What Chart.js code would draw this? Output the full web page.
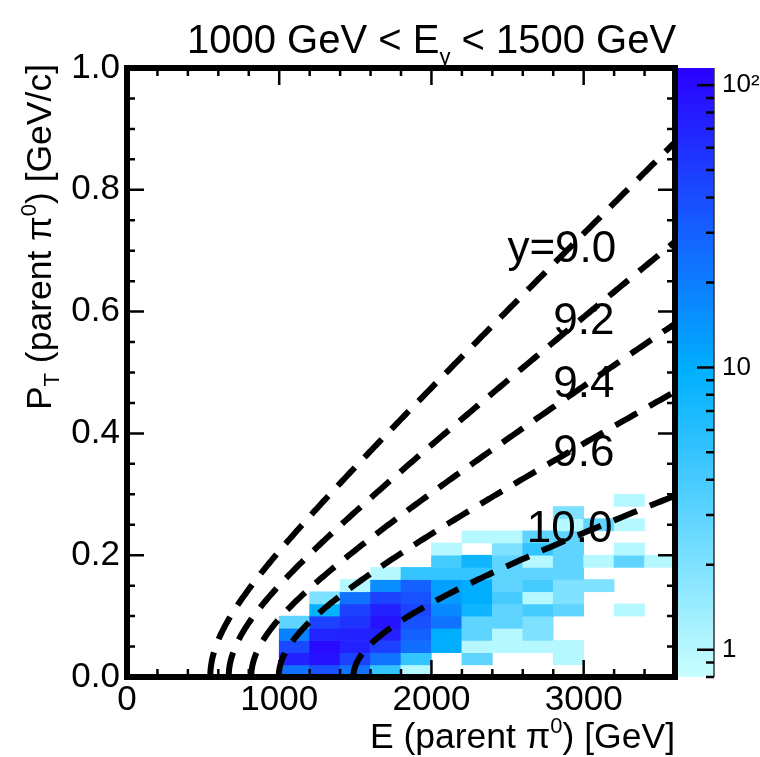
<!DOCTYPE html>
<html>
<head>
<meta charset="utf-8">
<title>pT vs E of parent pi0</title>
<script src="https://cdn.jsdelivr.net/npm/chart.js@4.4.0/dist/chart.umd.min.js"></script>
<style>
  html, body { margin: 0; padding: 0; background: #ffffff; }
  canvas { display: block; }
</style>
</head>
<body>
<canvas id="hist" width="760" height="757"></canvas>
<script>
// ---- histogram binning (E in GeV, pT in GeV/c) ----
const eBinLowEdges = [1000, 1200, 1400, 1600, 1800, 2000, 2200, 2400, 2600, 2800, 3000, 3200, 3400];
const eBinWidth = 200;
const ptBinWidth = 0.02;

// entries per E column, pT rows counted upward from 0 in steps of ptBinWidth
const countsE1000 = [23, 73, 42, 19, 3];
const countsE1200 = [38, 90, 100, 70, 47, 9, 2];
const countsE1400 = [23, 47, 73, 73, 57, 47, 23, 1];
const countsE1600 = [5, 23, 47, 73, 90, 73, 47, 16, 1];
const countsE1800 = [1, 5, 25, 30, 37, 45, 37, 30, 5];
const countsE2000 = [0, 0, 10, 10, 23, 17, 13, 12, 5, 4, 1];
const countsE2200 = [0, 3, 1, 3, 3, 8, 10, 10, 5, 8, 0, 1];
const countsE2400 = [0, 0, 1, 1, 3, 3, 4, 3, 3, 3, 2, 1];
const countsE2600 = [0, 0, 1, 2, 2, 4, 1, 4, 3, 1, 5, 3];
const countsE2800 = [0, 1, 1, 0, 0, 3, 2, 2, 3, 3, 3, 3, 1, 2];
const countsE3000 = [0, 0, 0, 0, 0, 0, 0, 2, 0, 1, 0, 0, 3];
const countsE3200 = [0, 0, 0, 0, 0, 1, 0, 0, 0, 3, 1, 0, 1, 0, 1];
const countsE3400 = [0, 0, 0, 0, 0, 0, 0, 0, 0, 1];
const countColumns = [countsE1000, countsE1200, countsE1400, countsE1600, countsE1800, countsE2000,
  countsE2200, countsE2400, countsE2600, countsE2800, countsE3000, countsE3200, countsE3400];

// iso-rapidity curves
const rapidities = [9.0, 9.2, 9.4, 9.6, 10.0];
const rapidityLabels = ['y=9.0', '9.2', '9.4', '9.6', '10.0'];
const PION_MASS = 0.135; // GeV/c^2

// axes
const eRange = [0, 3600];
const ptRange = [0, 1.0];
const zRange = [0.8, 115];
const eTicksMajor = [0, 1000, 2000, 3000];
const ptTicksMajor = [0, 0.2, 0.4, 0.6, 0.8, 1.0];
const zTicksMajor = [1, 10, 100];
const zTickLabels = ['1', '10', '10\u00B2'];
const zTicksMinor = [0.8, 0.9, 2, 3, 4, 5, 6, 7, 8, 9, 20, 30, 40, 50, 60, 70, 80, 90];
const eMinorStep = 200;
const ptMinorStep = 0.05;

const FONT = '"Liberation Sans", Arial, Helvetica, sans-serif';

// colour palette, position t in [0,1] along the log z axis
const paletteStops = [
  [0.00, [200, 255, 255]],
  [0.25, [100, 214, 255]],
  [0.50, [0, 176, 255]],
  [0.75, [22, 90, 255]],
  [1.00, [42, 0, 255]]
];
function paletteAt(t) {
  t = Math.min(1, Math.max(0, t));
  for (let i = 1; i < paletteStops.length; i++) {
    const [t1, c1] = paletteStops[i];
    const [t0, c0] = paletteStops[i - 1];
    if (t <= t1) {
      const f = (t - t0) / (t1 - t0);
      const c = c0.map((v, k) => Math.round(v + (c1[k] - v) * f));
      return `rgb(${c[0]},${c[1]},${c[2]})`;
    }
  }
  const c = paletteStops[paletteStops.length - 1][1];
  return `rgb(${c[0]},${c[1]},${c[2]})`;
}
function colorForCount(n) {
  const lo = Math.log10(zRange[0]), hi = Math.log10(zRange[1]);
  return paletteAt((Math.log10(n) - lo) / (hi - lo));
}

// one floating bar per filled cell
const cells = [];
countColumns.forEach((col, i) => {
  col.forEach((n, j) => {
    if (n > 0) {
      cells.push({ x: eBinLowEdges[i] + eBinWidth / 2, y: [j * ptBinWidth, (j + 1) * ptBinWidth], n: n });
    }
  });
});

// pT(E) at fixed rapidity: E = mT cosh(y), mT^2 = pT^2 + m^2
function rapidityCurve(y) {
  const ch = Math.cosh(y);
  const pts = [];
  for (let k = 0; k <= 500; k++) {
    const pt = k * 0.002;
    const e = ch * Math.sqrt(pt * pt + PION_MASS * PION_MASS);
    pts.push({ x: e, y: pt });
    if (e > eRange[1]) break;
  }
  return pts;
}

const curveDatasets = rapidities.map((y, i) => ({
  type: 'line',
  label: rapidityLabels[i],
  data: rapidityCurve(y),
  borderColor: '#000000',
  borderWidth: 6,
  borderDash: [25, 14],
  borderCapStyle: 'butt',
  pointRadius: 0,
  tension: 0,
  fill: false,
  order: 0,
  xAxisID: 'x',
  yAxisID: 'y'
}));

const cellDataset = {
  type: 'bar',
  label: 'entries',
  data: cells,
  backgroundColor: c => (c.raw ? colorForCount(c.raw.n) : '#ffffff'),
  borderWidth: 0,
  barPercentage: 1,
  categoryPercentage: 1,
  order: 10,
  xAxisID: 'x',
  yAxisID: 'y'
};

function drawRich(ctx, parts, x, y, align) {
  let w = 0;
  parts.forEach(p => {
    ctx.font = `${p.size}px ${FONT}`;
    p.w = ctx.measureText(p.text).width;
    w += p.w;
  });
  let cx = align === 'right' ? x - w : (align === 'center' ? x - w / 2 : x);
  ctx.textAlign = 'left';
  ctx.textBaseline = 'alphabetic';
  parts.forEach(p => {
    ctx.font = `${p.size}px ${FONT}`;
    ctx.fillText(p.text, cx, y + (p.dy || 0));
    cx += p.w;
  });
}

const decorPlugin = {
  id: 'decor',
  afterDatasetsDraw(chart, args, opts) {
    const { ctx, chartArea: a, scales } = chart;
    const xs = scales.x, ys = scales.y, zs = scales.z;
    ctx.save();

    // curve labels
    ctx.fillStyle = '#000';
    ctx.font = `44px ${FONT}`;
    ctx.textAlign = 'right';
    ctx.textBaseline = 'alphabetic';
    opts.curveLabelAnchors.forEach((p, i) => {
      ctx.fillText(rapidityLabels[i], xs.getPixelForValue(p[0]), ys.getPixelForValue(p[1]));
    });

    // ticks on all four sides, pointing inward
    ctx.strokeStyle = '#000';
    ctx.lineWidth = 2.5;
    ctx.beginPath();
    const isMajorE = v => eTicksMajor.some(m => Math.abs(m - v) < 1e-6);
    for (let v = 0; v < eRange[1] - 1e-6; v += eMinorStep) {
      const len = isMajorE(v) ? opts.majorLen : opts.minorLen;
      const px = xs.getPixelForValue(v);
      ctx.moveTo(px, a.bottom); ctx.lineTo(px, a.bottom - len);
      ctx.moveTo(px, a.top); ctx.lineTo(px, a.top + len);
    }
    const isMajorPt = v => ptTicksMajor.some(m => Math.abs(m - v) < 1e-6);
    for (let k = 0; k * ptMinorStep <= ptRange[1] + 1e-9; k++) {
      const v = k * ptMinorStep;
      const len = isMajorPt(v) ? opts.majorLen : opts.minorLen;
      const py = ys.getPixelForValue(v);
      ctx.moveTo(a.left, py); ctx.lineTo(a.left + len, py);
      ctx.moveTo(a.right, py); ctx.lineTo(a.right - len, py);
    }
    ctx.stroke();

    // frame
    ctx.lineWidth = 6;
    ctx.strokeRect(a.left, a.top, a.right - a.left, a.bottom - a.top);

    // colour bar
    const barL = a.right + opts.barGap, barR = barL + opts.barWidth;
    const yLo = zs.getPixelForValue(zRange[0]), yHi = zs.getPixelForValue(zRange[1]);
    const grad = ctx.createLinearGradient(0, yLo, 0, yHi);
    const nStops = 64;
    for (let k = 0; k <= nStops; k++) grad.addColorStop(k / nStops, paletteAt(k / nStops));
    ctx.fillStyle = grad;
    ctx.fillRect(barL, yHi, barR - barL, yLo - yHi);
    ctx.strokeStyle = '#333';
    ctx.lineWidth = 1.5;
    ctx.beginPath();
    ctx.moveTo(barR, yHi); ctx.lineTo(barR, yLo);
    ctx.stroke();
    ctx.strokeStyle = '#000';
    ctx.lineWidth = 2.5;
    ctx.beginPath();
    zTicksMajor.forEach(v => { const py = zs.getPixelForValue(v); ctx.moveTo(barR, py); ctx.lineTo(barR - opts.majorLen, py); });
    zTicksMinor.forEach(v => { const py = zs.getPixelForValue(v); ctx.moveTo(barR, py); ctx.lineTo(barR - opts.minorLen, py); });
    ctx.stroke();

    ctx.restore();
  },
  afterDraw(chart) {
    const { ctx, chartArea: a } = chart;
    ctx.save();
    ctx.fillStyle = '#000';
    // title
    drawRich(ctx, [
      { text: '1000 GeV < E', size: 40 },
      { text: '\u03B3', size: 22, dy: 11 },
      { text: ' < 1500 GeV', size: 40 }
    ], 187, 53, 'left');
    // x axis title
    drawRich(ctx, [
      { text: 'E (parent \u03C0', size: 35.5 },
      { text: '0', size: 22, dy: -15 },
      { text: ') [GeV]', size: 35.5 }
    ], a.right, 748, 'right');
    // y axis title
    ctx.translate(51, a.top - 4);
    ctx.rotate(-Math.PI / 2);
    drawRich(ctx, [
      { text: 'P', size: 35.5 },
      { text: 'T', size: 22, dy: 8 },
      { text: ' (parent \u03C0', size: 35.5 },
      { text: '0', size: 22, dy: -15 },
      { text: ') [GeV/c]', size: 35.5 }
    ], 0, 0, 'right');
    ctx.restore();
  }
};

const tickFont = { family: FONT, size: 35 };

new Chart(document.getElementById('hist'), {
  type: 'bar',
  data: { datasets: [...curveDatasets, cellDataset] },
  options: {
    responsive: false,
    animation: false,
    devicePixelRatio: 1,
    layout: { padding: { top: 68, left: 0, right: 0, bottom: 0 } },
    plugins: {
      legend: { display: false },
      title: { display: false },
      tooltip: { enabled: false },
      decor: {
        majorLen: 17,
        minorLen: 8,
        barGap: 3,
        barWidth: 36,
        curveLabelAnchors: [[3214, 0.681], [3202, 0.564], [3202, 0.459], [3202, 0.347], [3189, 0.222]]
      }
    },
    scales: {
      x: {
        type: 'linear', position: 'bottom', min: eRange[0], max: eRange[1], offset: false,
        grid: { display: false, drawTicks: false }, border: { display: false },
        ticks: { autoSkip: false, maxRotation: 0, padding: 2, font: tickFont, color: '#000',
                 callback: v => String(v) },
        afterBuildTicks: s => { s.ticks = eTicksMajor.map(v => ({ value: v })); },
        afterFit: s => { s.height = 80; }
      },
      y: {
        type: 'linear', position: 'left', min: ptRange[0], max: ptRange[1],
        grid: { display: false, drawTicks: false }, border: { display: false },
        ticks: { autoSkip: false, padding: 7, font: tickFont, color: '#000',
                 callback: v => Number(v).toFixed(1) },
        afterBuildTicks: s => { s.ticks = ptTicksMajor.map(v => ({ value: v })); },
        afterFit: s => { s.width = 127; }
      },
      z: {
        type: 'logarithmic', axis: 'y', position: 'right', min: zRange[0], max: zRange[1],
        grid: { display: false, drawTicks: false }, border: { display: false },
        ticks: { autoSkip: false, padding: 47, font: { family: FONT, size: 26 }, color: '#000',
                 callback: (v, i) => zTickLabels[i] },
        afterBuildTicks: s => { s.ticks = zTicksMajor.map(v => ({ value: v })); },
        afterFit: s => { s.width = 85; }
      }
    }
  },
  plugins: [decorPlugin]
});
</script>
</body>
</html>
